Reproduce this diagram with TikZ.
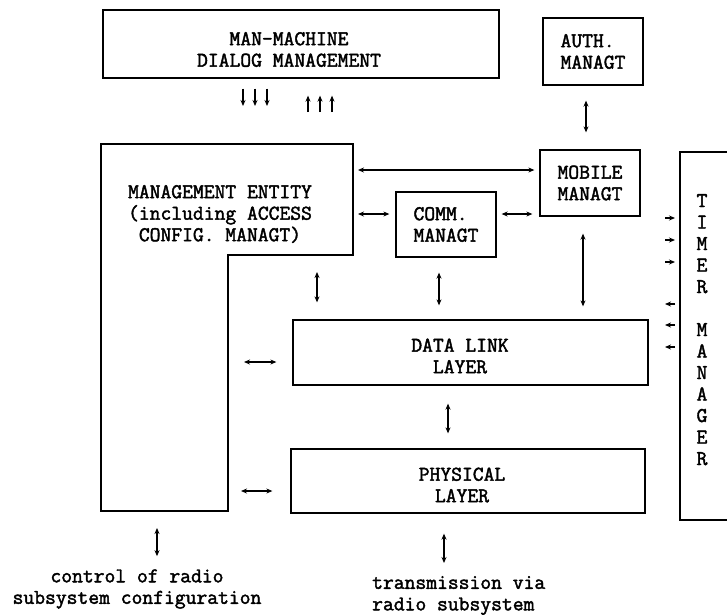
\documentclass[tikz,border=0pt]{standalone}
\usepackage{fontspec}
\newfontfamily\tw{Latin Modern Mono}[FakeBold=2]
\usetikzlibrary{arrows.meta}
\begin{document}
\begin{tikzpicture}[x=1pt,y=-1pt,
  box/.style={draw,line width=1.3pt,inner sep=0pt},
  txt/.style={font=\tw\fontsize{21}{21.5}\selectfont, align=center, inner sep=0pt},
  arr/.style={line width=1.2pt, {Stealth[length=6pt,width=5pt]}-{Stealth[length=6pt,width=5pt]}},
  one/.style={line width=1.2pt, -{Stealth[length=6pt,width=5pt]}},
  edge/.style={line width=1.3pt}]
\useasboundingbox (0,0) rectangle (727,614);
% boxes
\node[box, minimum width=396pt, minimum height=68pt] (mm) at (301,44) {};
\node[txt] (mmt) at (289,49.5) {MAN-MACHINE\\DIALOG MANAGEMENT};
\node[box, txt, align=left, minimum width=100pt, minimum height=67pt] (auth) at (593,51.5) {AUTH.\\MANAGT};
\node[box, txt, align=left, minimum width=100pt, minimum height=66pt] (mobile) at (590,183) {MOBILE\\MANAGT};
\node[box, txt, align=left, minimum width=100pt, minimum height=65pt] (comm) at (446,224.5) {COMM.\\MANAGT};
\node[box, minimum width=355pt, minimum height=65pt] (dl) at (470.5,352.5) {};
\node[txt] (dlt) at (460,356) {DATA LINK\\LAYER};
\node[box, minimum width=354pt, minimum height=64pt] (phy) at (468,481) {};
\node[txt] (phyt) at (462,485) {PHYSICAL\\LAYER};
% management entity (L-shaped)
\draw[edge] (101,144) -- (353,144) -- (353,255) -- (228,255) -- (228,511) -- (101,511) -- cycle;
\node[txt] (met) at (220,214) {MANAGEMENT ENTITY\\(including ACCESS\\CONFIG. MANAGT)};
\coordinate (meR1) at (353,170);
\coordinate (meR2) at (353,214);
\coordinate (meS) at (317,255);
\coordinate (meI1) at (228,362);
\coordinate (meI2) at (228,491);
\coordinate (meB) at (157,511);
% timer manager
\draw[edge] (728,152) -- (680,152) -- (680,520) -- (728,520);
\coordinate (tl) at (680,336);
\node[txt] (tmt) at (702,329.7) {T\\I\\M\\E\\R\\[21.5pt]M\\A\\N\\A\\G\\E\\R};
% bottom texts
\node[txt] (ctrl) at (137,589) {control of radio\\subsystem configuration};
\node[txt, align=left, anchor=north west] (trans) at (372,576) {transmission via\\radio subsystem};
% connectors
\draw[arr, shorten <=15pt, shorten >=17pt] ([xshift=-7pt]auth.south) -- ([xshift=-4pt]mobile.north);
\draw[arr, shorten <=5pt, shorten >=5pt] (meR1) -- (meR1 -| mobile.west);
\draw[arr, shorten <=5pt, shorten >=6pt] (meR2) -- (meR2 -| comm.west);
\draw[arr, shorten <=5pt, shorten >=7pt] (meR2 -| comm.east) -- (meR2 -| mobile.west);
\draw[arr, shorten <=17pt, shorten >=17pt] (meS) -- (meS |- dl.north);
\draw[arr, shorten <=15pt, shorten >=14pt] ([xshift=-7pt]comm.south) -- ([xshift=-7pt]comm.south |- dl.north);
\draw[arr, shorten <=17pt, shorten >=13pt] ([xshift=-7pt]mobile.south) -- ([xshift=-7pt]mobile.south |- dl.north);
\draw[arr, shorten <=16pt, shorten >=16pt] (meI1) -- (meI1 -| dl.west);
\draw[arr, shorten <=13pt, shorten >=18pt] (meI2) -- (meI2 -| phy.west);
\draw[arr, shorten <=18pt, shorten >=15pt] ([xshift=-22.5pt]dl.south) -- ([xshift=-22.5pt]dl.south |- phy.north);
\draw[arr, shorten <=17pt, shorten >=13pt] (meB) -- (meB |- ctrl.north);
\draw[arr, shorten <=20pt, shorten >=13pt] ([xshift=-24pt]phy.south) -- ([xshift=-24pt]phy.south |- trans.north);
% dialog arrows
\foreach \x [count=\i] in {243,255,267} {
  \coordinate (d\i) at (\x,106);
  \draw[one, shorten <=10pt] (mm.south -| d\i) -- (d\i);
}
\foreach \x [count=\i] in {308,320,332} {
  \coordinate (u\i) at (\x,112);
  \draw[one, shorten >=17pt] (u\i) -- (mm.south -| u\i);
}
% timer arrows
\foreach \y [count=\i] in {218,240,262} {
  \coordinate (ti\i) at (665,\y);
  \draw[one, shorten >=5pt] (ti\i) -- (ti\i -| tl);
}
\foreach \y [count=\i] in {304,325,347} {
  \coordinate (to\i) at (665,\y);
  \draw[one, shorten <=5pt] (to\i -| tl) -- (to\i);
}
\end{tikzpicture}
\end{document}
